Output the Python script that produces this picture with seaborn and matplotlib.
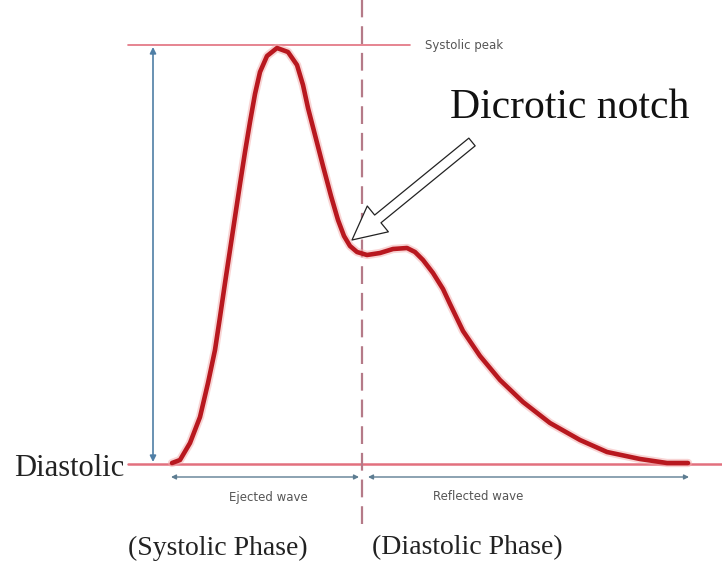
import matplotlib.pyplot as plt
import seaborn as sns
import numpy as np

# Pulse waveform (time in px, height above diastolic level in px)
t = [172, 180, 190, 200, 208, 215, 220, 225, 230, 235, 240, 245, 250, 255, 260, 267,
     277, 288, 297, 303, 308, 315, 323, 331, 338, 344, 350, 357, 367, 380, 393, 407,
     415, 423, 433, 443, 450, 463, 480, 500, 523, 550, 580, 607, 640, 667, 688]
pressure = [1, 4, 21, 47, 81, 114, 147, 181, 214, 247, 280, 312, 342, 370, 392, 408,
            416, 412, 399, 379, 356, 329, 298, 268, 244, 228, 218, 212, 209, 211, 215, 216,
            212, 204, 191, 175, 160, 133, 108, 84, 62, 41, 24, 12, 5, 1, 1]

# reference levels / markers
diastolic_level = 0
systolic_level = 419
notch_time = 362
wave_start, wave_end = 171, 689

sns.set_theme(style="white")
plt.rcParams['font.family'] = ['Liberation Serif', 'DejaVu Serif']

fig = plt.figure(figsize=(7.22, 5.75), dpi=100)
ax = fig.add_axes([0, 0, 1, 1])
ax.set_xlim(0, 722)
ax.set_ylim(-111, 464)
ax.axis('off')

# horizontal reference lines
ax.plot([128, 722], [diastolic_level, diastolic_level], color='#e2707e', lw=1.8)
ax.plot([128, 410], [systolic_level, systolic_level], color='#e2707e', lw=1.2)
ax.text(425, systolic_level, 'Systolic peak', fontsize=8.5, color='#555555',
        va='center', ha='left', family='DejaVu Sans')

# dashed phase divider
ax.plot([notch_time, notch_time], [-60, 464], color='#b57a88', lw=1.6,
        linestyle=(0, (8, 4)))

# vertical amplitude arrow
ax.annotate('', xy=(153, systolic_level - 2), xytext=(153, diastolic_level + 2),
            arrowprops=dict(arrowstyle='<|-|>', color='#4f7fa6', lw=1.2,
                            mutation_scale=9, shrinkA=0, shrinkB=0))

# the waveform (soft halo + core line)
sns.lineplot(x=t, y=pressure, sort=False, estimator=None, ax=ax,
             color='#f3aaaa', lw=6, alpha=0.5, solid_joinstyle='round',
             solid_capstyle='round')
sns.lineplot(x=t, y=pressure, sort=False, estimator=None, ax=ax,
             color='#b8181f', lw=3.3, solid_joinstyle='round',
             solid_capstyle='round')

# bottom wave-span arrows
ax.annotate('', xy=(wave_start, -13), xytext=(notch_time - 3, -13),
            arrowprops=dict(arrowstyle='<|-|>', color='#5d7d92', lw=1.0,
                            mutation_scale=7, shrinkA=0, shrinkB=0))
ax.annotate('', xy=(notch_time + 6, -13), xytext=(wave_end, -13),
            arrowprops=dict(arrowstyle='<|-|>', color='#5d7d92', lw=1.0,
                            mutation_scale=7, shrinkA=0, shrinkB=0))
ax.text(268, -33, 'Ejected wave', fontsize=8.5, color='#555555', ha='center',
        va='center', family='DejaVu Sans')
ax.text(478, -33, 'Reflected wave', fontsize=8.5, color='#555555', ha='center',
        va='center', family='DejaVu Sans')

# labels
ax.text(14, -4, 'Diastolic', fontsize=22, color='#222222', ha='left', va='center')
ax.text(218, -84, '(Systolic Phase)', fontsize=20, color='#222222', ha='center', va='center')
ax.text(467, -84, '(Diastolic Phase)', fontsize=20, color='#222222', ha='center', va='center')

# dicrotic notch callout with hollow arrow
ax.text(570, 356, 'Dicrotic notch', fontsize=30, color='#111111', ha='center', va='center')
ax.annotate('', xy=(352, 224), xytext=(472, 322),
            arrowprops=dict(arrowstyle='simple,head_width=1.5,head_length=1.5,tail_width=0.45',
                            fc='white', ec='#222222', lw=0.9, mutation_scale=16,
                            shrinkA=0, shrinkB=0))

plt.savefig('out.png', dpi=100)
